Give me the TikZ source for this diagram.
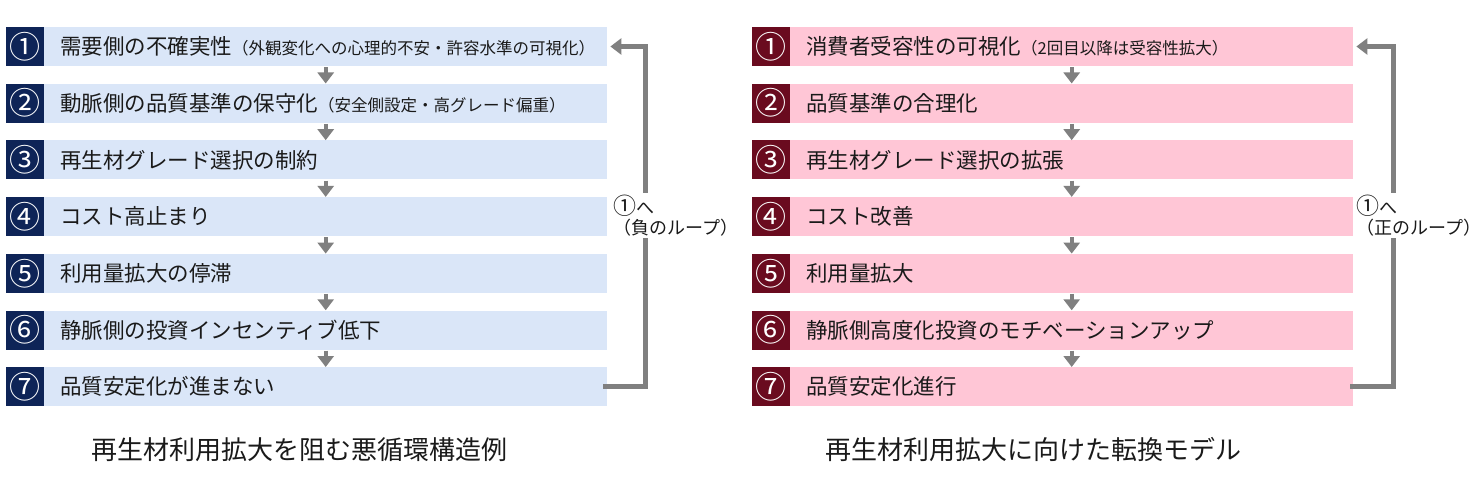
\documentclass[tikz,border=0pt]{standalone}
\usepackage{fontspec}
\setmainfont{Noto Sans CJK JP}
\usetikzlibrary{arrows.meta,positioning,calc}
\definecolor{navyB}{HTML}{0E2457}
\definecolor{maroonB}{HTML}{6A0B1F}
\definecolor{lightB}{HTML}{DAE6F8}
\definecolor{pinkB}{HTML}{FFC6D6}
\definecolor{arrG}{HTML}{808080}
\definecolor{txtK}{HTML}{1A1A1A}
\tikzset{
  badge/.style={rectangle, minimum width=38pt, minimum height=39pt, inner sep=0pt,
    text=white, font=\fontsize{31}{31}\selectfont},
  badgeL/.style={badge, fill=navyB},
  badgeR/.style={badge, fill=maroonB},
  bar/.style={rectangle, anchor=west, minimum width=563pt, minimum height=39pt,
    inner xsep=16pt, inner ysep=0pt, text width=531pt, align=left, text=txtK,
    font=\fontsize{21.5}{24}\selectfont},
  barL/.style={bar, fill=lightB},
  barR/.style={bar, fill=pinkB},
  downarr/.style={draw=arrG, line width=4pt, -{Triangle[length=11pt,width=16pt]},
    shorten <=1pt, shorten >=0pt},
  loopline/.style={draw=arrG, line width=4.5pt, -{Triangle[length=11pt,width=16pt]}},
  looplabel/.style={fill=white, align=left, text=txtK, inner xsep=0pt, inner ysep=2pt,
    font=\fontsize{18}{20}\selectfont},
  caption/.style={text=txtK, font=\fontsize{26}{28}\selectfont}
}
\newcommand{\smalltxt}[1]{{\fontsize{16.5}{18}\selectfont #1}}
\newcommand{\bigone}{{\fontsize{23}{20}\selectfont ①}}
\begin{document}
\begin{tikzpicture}[x=1pt,y=-1pt]
\useasboundingbox[fill=white] (0,0) rectangle (1484,489);
% ---------- badges ----------
\foreach \i/\t in {1/①,2/②,3/③,4/④,5/⑤,6/⑥,7/⑦}{
  \node[badgeL] (BL\i) at (25,{46.5+(\i-1)*56.7}) {\t};
  \node[badgeR] (BR\i) at (771,{46.5+(\i-1)*56.7}) {\t};
}
% ---------- left panel ----------
\node[barL] (L1) at (44,46.5) {需要側の不確実性\smalltxt{（外観変化への心理的不安・許容水準の可視化）}};
\node[barL] (L2) at (44,103.2) {動脈側の品質基準の保守化\smalltxt{（安全側設定・高グレード偏重）}};
\node[barL] (L3) at (44,159.9) {再生材グレード選択の制約};
\node[barL] (L4) at (44,216.6) {コスト高止まり};
\node[barL] (L5) at (44,273.3) {利用量拡大の停滞};
\node[barL] (L6) at (44,330.0) {静脈側の投資インセンティブ低下};
\node[barL] (L7) at (44,386.7) {品質安定化が進まない};
\foreach \a/\b in {1/2,2/3,3/4,4/5,5/6,6/7}{
  \draw[downarr] (L\a.south) -- (L\b.north);
}
\draw[loopline] ([xshift=-4pt]L7.east) -- ++(42pt,0) |- ([xshift=3pt]L1.east);
\node[looplabel, anchor=north west] (LL) at (613,193) {\bigone へ\\（負のループ）};
\node[caption] (CL) at (299,450) {再生材利用拡大を阻む悪循環構造例};
% ---------- right panel ----------
\node[barR] (R1) at (790,46.5) {消費者受容性の可視化\smalltxt{（2回目以降は受容性拡大）}};
\node[barR] (R2) at (790,103.2) {品質基準の合理化};
\node[barR] (R3) at (790,159.9) {再生材グレード選択の拡張};
\node[barR] (R4) at (790,216.6) {コスト改善};
\node[barR] (R5) at (790,273.3) {利用量拡大};
\node[barR] (R6) at (790,330.0) {静脈側高度化投資のモチベーションアップ};
\node[barR] (R7) at (790,386.7) {品質安定化進行};
\foreach \a/\b in {1/2,2/3,3/4,4/5,5/6,6/7}{
  \draw[downarr] (R\a.south) -- (R\b.north);
}
\draw[loopline] ([xshift=-3pt]R7.east) -- ++(43pt,0) |- ([xshift=3pt]R1.east);
\node[looplabel, anchor=north west] (RL) at (1356,193) {\bigone へ\\（正のループ）};
\node[caption] (CR) at (1033,450) {再生材利用拡大に向けた転換モデル};
\end{tikzpicture}
\end{document}
